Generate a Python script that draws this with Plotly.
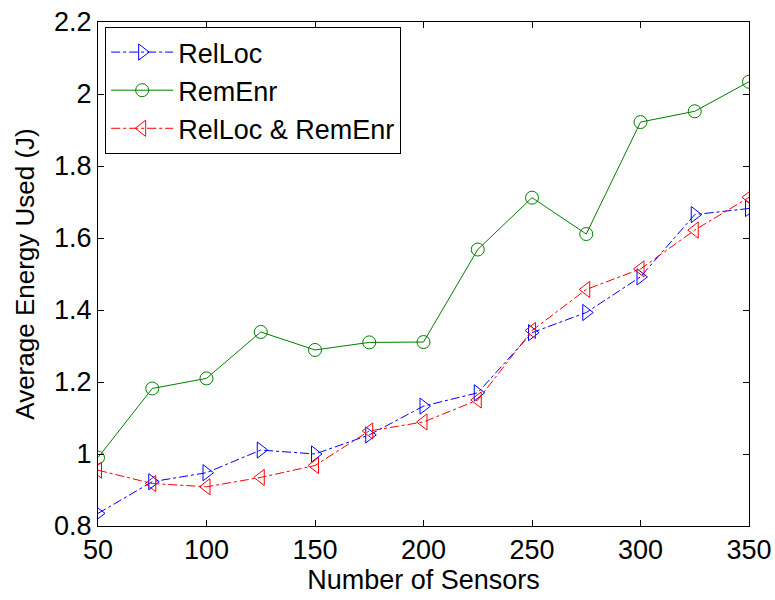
import plotly.graph_objects as go

sensors = [50, 75, 100, 125, 150, 175, 200, 225, 250, 275, 300, 325, 350]
relloc = [0.835, 0.923, 0.948, 1.011, 1.0, 1.053, 1.133, 1.170, 1.337, 1.393, 1.492, 1.665, 1.682]
remenr = [0.99, 1.182, 1.21, 1.339, 1.289, 1.31, 1.311, 1.568, 1.712, 1.611, 1.922, 1.952, 2.034]
both = [0.955, 0.918, 0.909, 0.935, 0.968, 1.064, 1.089, 1.15, 1.343, 1.457, 1.514, 1.622, 1.713]

x_ticks = [50, 100, 150, 200, 250, 300, 350]
y_ticks = [0.8, 1.0, 1.2, 1.4, 1.6, 1.8, 2.0, 2.2]
y_tick_labels = ["0.8", "1", "1.2", "1.4", "1.6", "1.8", "2", "2.2"]

FONT = "Liberation Sans, Arial, sans-serif"

fig = go.Figure()
fig.add_trace(go.Scatter(
    x=sensors, y=relloc, name="RelLoc", mode="lines+markers",
    line=dict(color="#0000ff", width=1, dash="dashdot"),
    marker=dict(symbol="triangle-right-open", size=14, color="#0000ff", line=dict(width=1)),
))
fig.add_trace(go.Scatter(
    x=sensors, y=remenr, name="RemEnr", mode="lines+markers",
    line=dict(color="#008000", width=1),
    marker=dict(symbol="circle-open", size=13, color="#008000", line=dict(width=1)),
))
fig.add_trace(go.Scatter(
    x=sensors, y=both, name="RelLoc & RemEnr", mode="lines+markers",
    line=dict(color="#ff0000", width=1, dash="dashdot"),
    marker=dict(symbol="triangle-left-open", size=14, color="#ff0000", line=dict(width=1)),
))

axis_common = dict(
    showline=True, linecolor="black", linewidth=1, mirror="ticks",
    ticks="inside", ticklen=6, tickcolor="black", tickwidth=1,
    showgrid=False, zeroline=False, automargin=False,
    tickfont=dict(family=FONT, size=27, color="black"),
)

fig.update_layout(
    width=775, height=600,
    margin=dict(l=98, r=26, t=22, b=74),
    paper_bgcolor="white", plot_bgcolor="white",
    font=dict(family=FONT, size=27, color="black"),
    xaxis=dict(range=[50, 350], tickvals=x_ticks,
               title=dict(text="Number of Sensors", font=dict(size=27), standoff=0),
               **axis_common),
    yaxis=dict(range=[0.8, 2.2], tickvals=y_ticks, ticktext=y_tick_labels,
               title=dict(text="Average Energy Used (J)", font=dict(size=26), standoff=11),
               **axis_common),
    legend=dict(x=0.011, y=0.99, xanchor="left", yanchor="top",
                bgcolor="white", bordercolor="black", borderwidth=1,
                font=dict(family=FONT, size=27, color="black"),
                itemwidth=62, tracegroupgap=0),
    showlegend=True,
)

fig.write_html("out.html")
